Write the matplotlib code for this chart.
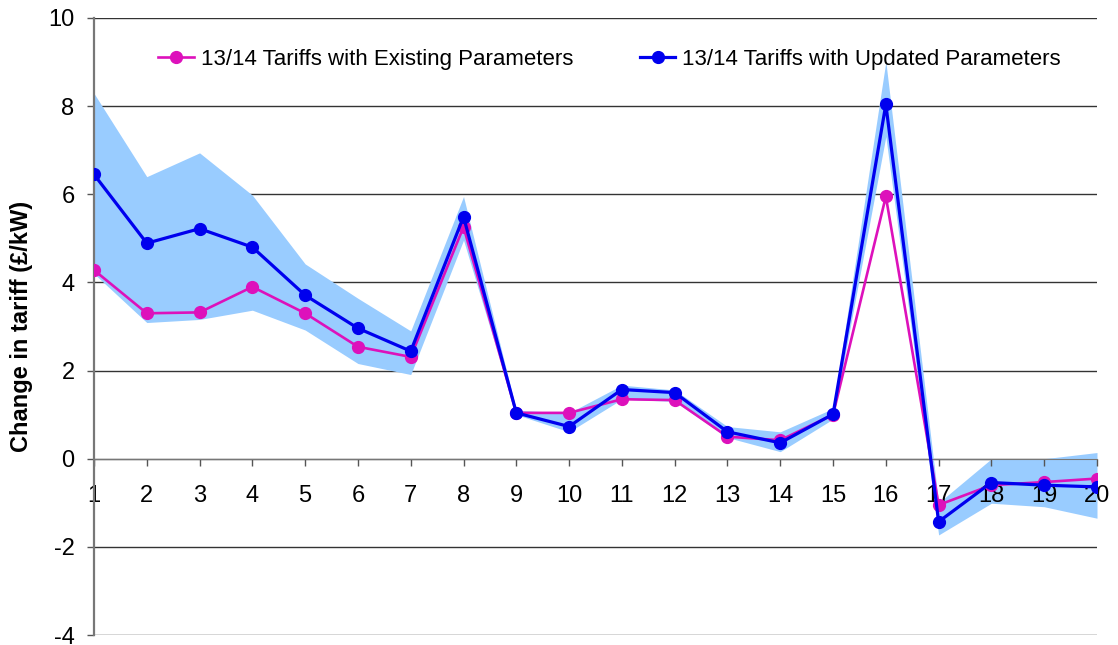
import numpy as np
import matplotlib
matplotlib.use("Agg")
import matplotlib.pyplot as plt

plt.rcParams['font.family'] = ['Liberation Sans', 'DejaVu Sans']
plt.rcParams['axes.unicode_minus'] = False

zones = list(range(1, 21))
existing = [4.28, 3.30, 3.32, 3.90, 3.30, 2.54, 2.31, 5.26, 1.04, 1.04,
            1.35, 1.33, 0.50, 0.42, 1.00, 5.95, -1.05, -0.60, -0.53, -0.45]
updated = [6.45, 4.89, 5.22, 4.80, 3.71, 2.96, 2.44, 5.49, 1.04, 0.73,
           1.57, 1.50, 0.61, 0.36, 1.01, 8.04, -1.43, -0.54, -0.60, -0.64]
band_low = [4.20, 3.09, 3.16, 3.37, 2.92, 2.16, 1.91, 4.96, 1.00, 0.61,
            1.35, 1.30, 0.48, 0.16, 0.90, 7.31, -1.73, -1.01, -1.09, -1.35]
band_high = [8.29, 6.40, 6.94, 5.98, 4.42, 3.64, 2.90, 5.95, 1.10, 1.04,
             1.67, 1.56, 0.73, 0.61, 1.14, 9.01, -1.00, 0.00, 0.00, 0.14]

fig = plt.figure(figsize=(11.18, 6.45), dpi=100)
ax = fig.add_axes([94/1118, 10/645, 1003/1118, 617/645])

ax.fill_between(zones, band_low, band_high, color='#99ccff', lw=0, zorder=1)
for y in range(-4, 11, 2):
    ax.axhline(y, color='#333333', lw=1.0, zorder=0.5)

ax.plot(zones, existing, '-o', color='#dd11bb', lw=1.9, ms=8.5,
        label='13/14 Tariffs with Existing Parameters', zorder=3)
ax.plot(zones, updated, '-o', color='#0000ee', lw=2.3, ms=8.5,
        label='13/14 Tariffs with Updated Parameters', zorder=4)

ax.set_xlim(1, 20)
ax.set_ylim(-4, 10)
ax.set_xticks(zones)
ax.set_yticks(range(-4, 11, 2))
ax.spines['top'].set_visible(False)
ax.spines['right'].set_visible(False)
ax.spines['bottom'].set_position(('data', 0))
ax.spines['bottom'].set_color('#777777')
ax.spines['left'].set_color('#777777')
ax.spines['left'].set_linewidth(1.6)
ax.tick_params(axis='both', colors='#555555', labelcolor='black',
               labelsize=17, length=5, width=1)
ax.tick_params(axis='x', pad=14)
ax.tick_params(axis='y', pad=9)
ax.set_ylabel('Change in tariff (£/kW)', fontsize=17, fontweight='bold')
ax.yaxis.set_label_coords(-0.061, 0.5)

ax.legend(loc='upper center', ncol=2, frameon=False, fontsize=16,
          bbox_to_anchor=(0.514, 0.982), columnspacing=3.0, handlelength=1.6,
          handletextpad=0.3)

fig.savefig('out.png', dpi=100)
